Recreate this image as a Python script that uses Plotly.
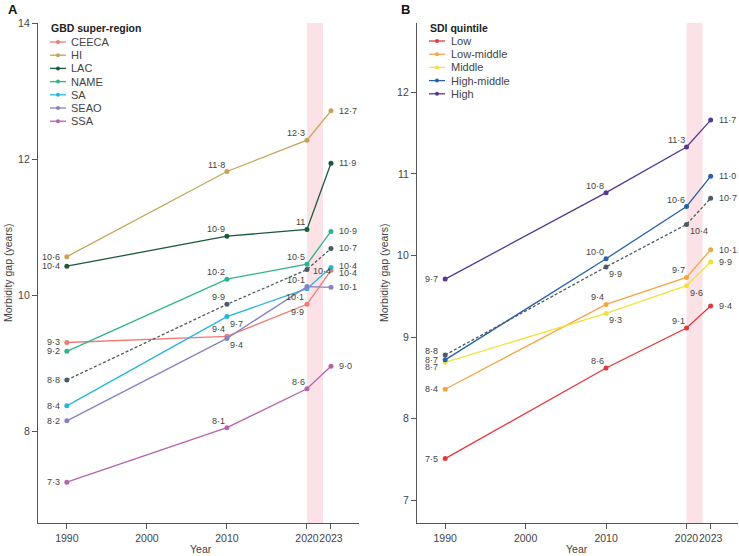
import plotly.graph_objs as go

years = [1990, 2010, 2020, 2023]

# panel A - GBD super-regions
regions = ["CEECA", "HI", "LAC", "NAME", "SA", "SEAO", "SSA"]
ceeca = [9.31, 9.40, 9.87, 10.37]
hi = [10.57, 11.82, 12.28, 12.71]
lac = [10.43, 10.87, 10.97, 11.94]
name_ = [9.18, 10.24, 10.46, 10.94]
sa = [8.38, 9.69, 10.10, 10.41]
seao = [8.16, 9.37, 10.13, 10.12]
ssa = [7.26, 8.06, 8.63, 8.96]
global_a = [8.76, 9.87, 10.38, 10.69]

# panel B - SDI quintiles
quintiles = ["Low", "Low-middle", "Middle", "High-middle", "High"]
low = [7.51, 8.62, 9.11, 9.38]
low_mid = [8.36, 9.40, 9.73, 10.07]
middle = [8.69, 9.29, 9.63, 9.92]
high_mid = [8.72, 9.96, 10.60, 10.97]
high = [9.71, 10.77, 11.33, 11.66]
global_b = [8.78, 9.86, 10.38, 10.70]

x_ticks = [1990, 2000, 2010, 2020, 2023]

W, H = 739, 556
ML, MR, MT, MB = 38, 1, 23, 33
FONT = "Liberation Sans, Arial, sans-serif"
GREY = "#444444"


def px(x):
    return (x - ML) / (W - ML - MR)


def py(y):
    return (H - MB - y) / (H - MT - MB)


def lbl(v):
    return f"{v:.1f}".replace(".", "·")


# label placement per point
place = {
    "L": dict(xanchor="right", yanchor="middle", xshift=-5, yshift=0),
    "LU": dict(xanchor="right", yanchor="middle", xshift=-5, yshift=4),
    "LD": dict(xanchor="right", yanchor="middle", xshift=-5, yshift=-5),
    "R": dict(xanchor="left", yanchor="middle", xshift=6, yshift=0),
    "RU": dict(xanchor="left", yanchor="middle", xshift=6, yshift=2),
    "RD": dict(xanchor="left", yanchor="middle", xshift=6, yshift=-3),
    "R2": dict(xanchor="left", yanchor="middle", xshift=4, yshift=-1),
    "TL": dict(xanchor="right", yanchor="middle", xshift=0, yshift=7),
    "BR": dict(xanchor="left", yanchor="middle", xshift=1, yshift=-7),
    "BL": dict(xanchor="right", yanchor="middle", xshift=-1, yshift=-8),
}

series_a = [
    ("CEECA", ceeca, "#EF7C74", "solid", ["L", "TL", "BL", "RD"]),
    ("HI", hi, "#C8A258", "solid", ["L", "TL", "TL", "R"]),
    ("LAC", lac, "#1B5A3A", "solid", ["L", "TL", "TL", "R"]),
    ("NAME", name_, "#2DB48B", "solid", ["L", "TL", "TL", "R"]),
    ("SA", sa, "#27B5DA", "solid", ["L", "BR", "BL", "RU"]),
    ("SEAO", seao, "#8583C4", "solid", ["L", "BR", "TL", "R"]),
    ("SSA", ssa, "#B563AA", "solid", ["L", "TL", "TL", "R"]),
    ("Global", global_a, "#4D5A63", "3px,2px", ["L", "TL", "R2", "R"]),
]
series_b = [
    ("Low", low, "#E4383B", "solid", ["L", "TL", "TL", "R"]),
    ("Low-middle", low_mid, "#F4A443", "solid", ["L", "TL", "TL", "R"]),
    ("Middle", middle, "#F0E23C", "solid", ["LD", "BR", "BR", "R"]),
    ("High-middle", high_mid, "#2A61A9", "solid", ["L", "TL", "TL", "R"]),
    ("High", high, "#563890", "solid", ["L", "TL", "TL", "R"]),
    ("Global", global_b, "#4D5A63", "3px,2px", ["LU", "BR", "BR", "R"]),
]

fig = go.Figure()
annotations = []
shapes = []

for xa, ya, series in [("x", "y", series_a), ("x2", "y2", series_b)]:
    for nm, vals, col, dash, pos in series:
        fig.add_trace(go.Scatter(
            x=years, y=vals, mode="lines+markers", name=nm,
            line=dict(color=col, width=1.3, dash=dash),
            marker=dict(color=col, size=5),
            xaxis=xa, yaxis=ya, showlegend=False, hoverinfo="skip"))
        for yr, v, p in zip(years, vals, pos):
            text = lbl(v)
            if xa == "x" and nm == "LAC" and yr == 2020:
                text = "11"
            annotations.append(dict(
                x=yr, y=v, xref=xa, yref=ya, text=text, showarrow=False,
                font=dict(family=FONT, size=9, color=GREY), **place[p]))
    # 2020-2022 shaded band
    shapes.append(dict(type="rect", xref=xa, yref=ya + " domain", x0=2020, x1=2022,
                       y0=0, y1=1, fillcolor="#FBE2E7", line=dict(width=0), layer="below"))

# manual legends
for title, series, sx0, tx, ty0 in [("GBD super-region", series_a[:-1], 50, 69, 42),
                                      ("SDI quintile", series_b[:-1], 429, 449, 41)]:
    annotations.append(dict(x=px(sx0 - 1), y=py(28), xref="paper", yref="paper",
                            text="<b>" + title + "</b>", showarrow=False,
                            xanchor="left", yanchor="middle",
                            font=dict(family=FONT, size=10.5, color="#222222")))
    for i, (nm, vals, col, dash, pos) in enumerate(series):
        yy = ty0 + i * 13.2
        shapes.append(dict(type="line", xref="paper", yref="paper",
                           x0=px(sx0), x1=px(sx0 + 16), y0=py(yy), y1=py(yy),
                           line=dict(color=col, width=1.3)))
        shapes.append(dict(type="circle", xref="paper", yref="paper",
                           x0=px(sx0 + 6), x1=px(sx0 + 10), y0=py(yy + 2), y1=py(yy - 2),
                           fillcolor=col, line=dict(width=0)))
        annotations.append(dict(x=px(tx), y=py(yy), xref="paper", yref="paper",
                                text=nm, showarrow=False, xanchor="left", yanchor="middle",
                                font=dict(family=FONT, size=11, color=GREY)))

# panel letters and axis titles
for letter, lx in [("A", 6), ("B", 399)]:
    annotations.append(dict(x=px(lx), y=py(10), xref="paper", yref="paper", text="<b>" + letter + "</b>",
                            showarrow=False, xanchor="left", yanchor="middle",
                            font=dict(family=FONT, size=13, color="#111111")))
for tx in [8, 384]:
    annotations.append(dict(x=px(tx), y=py(273), xref="paper", yref="paper",
                            text="Morbidity gap (years)", textangle=-90, showarrow=False,
                            xanchor="center", yanchor="middle",
                            font=dict(family=FONT, size=10.5, color=GREY)))
for tx in [201, 577]:
    annotations.append(dict(x=px(tx), y=py(549), xref="paper", yref="paper", text="Year",
                            showarrow=False, xanchor="center", yanchor="middle",
                            font=dict(family=FONT, size=10.5, color=GREY)))

axis_style = dict(showgrid=False, zeroline=False, showline=True, linecolor="#555555",
                  linewidth=1.2, ticks="outside", ticklen=5, tickcolor="#555555",
                  tickangle=0, tickfont=dict(family=FONT, size=10.5, color=GREY))

fig.update_layout(
    width=W, height=H, margin=dict(l=ML, r=MR, t=MT, b=MB),
    plot_bgcolor="white", paper_bgcolor="white",
    xaxis=dict(domain=[0, px(359)], range=[1986.4, 2026.5], tickvals=x_ticks, **axis_style),
    yaxis=dict(range=[6.66, 14.0], tickvals=[8, 10, 12, 14], **axis_style),
    xaxis2=dict(domain=[px(417), 1], range=[1986.5, 2026.4], tickvals=x_ticks,
                anchor="y2", **axis_style),
    yaxis2=dict(range=[6.72, 12.85], tickvals=[7, 8, 9, 10, 11, 12], anchor="x2",
                **axis_style),
    shapes=shapes, annotations=annotations, showlegend=False,
)

fig.write_html("out.html", config={"displayModeBar": False},
               post_script="document.body.style.margin='0px';")
